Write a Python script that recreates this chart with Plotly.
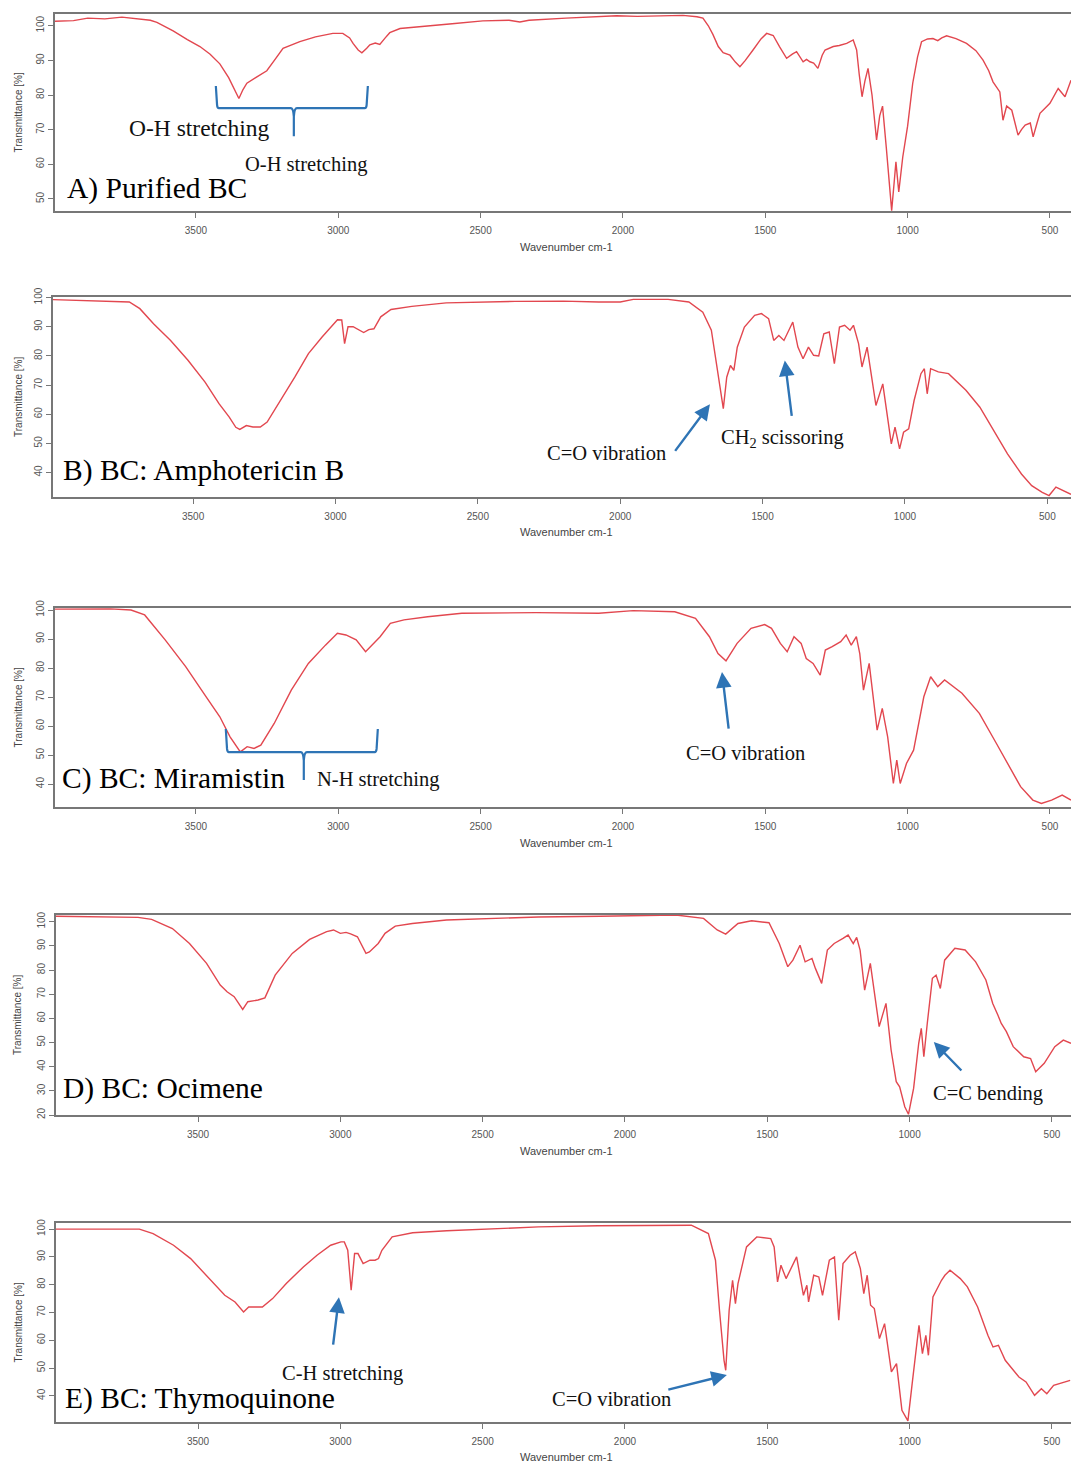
import plotly.graph_objects as go

W, H = 1071, 1463

# ---------------- data (wavenumber cm-1, transmittance %) ----------------
wn_A = [3995, 3930, 3880, 3820, 3760, 3700, 3660, 3637, 3580, 3530, 3486, 3450, 3416, 3385, 3360, 3349, 3335, 3321,
        3290, 3251, 3220, 3194, 3135, 3080, 3019, 2984, 2960, 2948, 2930, 2917, 2900, 2889, 2870, 2854, 2835, 2819,
        2783, 2725, 2600, 2492, 2400, 2362, 2330, 2200, 2100, 2022, 1950, 1850, 1789, 1740, 1719, 1700, 1684, 1665,
        1648, 1624, 1605, 1589, 1570, 1543, 1515, 1495, 1472, 1450, 1425, 1405, 1390, 1367, 1355, 1343, 1330, 1315,
        1300, 1290, 1261, 1240, 1214, 1191, 1179, 1170, 1160, 1150, 1139, 1125, 1109, 1098, 1088, 1075, 1062, 1056,
        1048, 1041, 1031, 1017, 1000, 982, 965, 951, 930, 911, 894, 880, 863, 830, 793, 760, 735, 715, 700, 676, 665,
        652, 634, 612, 600, 587, 569, 559, 545, 535, 500, 471, 447, 426]
T_A = [101.3, 101.5, 102.2, 102.0, 102.5, 102.0, 101.6, 101.0, 98.5, 96.0, 94.0, 91.8, 89.0, 85.0, 81.0, 79.0, 81.5,
       83.4, 85.0, 87.0, 90.5, 93.5, 95.4, 96.8, 97.8, 97.8, 96.5, 94.9, 93.0, 92.2, 93.5, 94.5, 95.0, 94.6, 96.5, 98.0,
       99.2, 99.7, 100.6, 101.4, 101.6, 101.1, 101.6, 102.2, 102.5, 102.9, 102.7, 103.0, 103.0, 102.6, 102.2, 100.0,
       97.5, 94.0, 92.2, 91.5, 89.5, 88.2, 90.0, 93.0, 96.2, 97.8, 97.2, 94.0, 90.6, 91.8, 92.5, 89.6, 90.3, 89.6,
       89.2, 87.7, 91.5, 93.0, 94.0, 94.3, 94.9, 95.9, 93.0, 86.0, 79.5, 84.0, 87.7, 80.0, 67.0, 74.0, 76.8, 65.0,
       52.0, 46.6, 54.0, 60.7, 52.0, 62.1, 71.0, 83.4, 91.0, 95.4, 96.2, 96.3, 95.7, 96.5, 97.1, 96.3, 94.9, 92.8,
       90.1, 87.0, 83.8, 80.9, 72.7, 76.8, 75.6, 68.4, 70.0, 71.3, 71.9, 67.9, 72.0, 74.7, 77.6, 81.9, 79.5, 84.3]

wn_B = [3992, 3900, 3800, 3724, 3687, 3639, 3579, 3518, 3458, 3409, 3373, 3350, 3336, 3313, 3290, 3264, 3240, 3192,
        3143, 3095, 3047, 2993, 2978, 2968, 2960, 2956, 2938, 2901, 2883, 2865, 2841, 2805, 2732, 2611, 2369, 2200,
        2075, 2000, 1954, 1832, 1759, 1710, 1680, 1662, 1644, 1638, 1626, 1613, 1601, 1589, 1564, 1528, 1504, 1479,
        1461, 1443, 1425, 1394, 1376, 1358, 1339, 1321, 1303, 1285, 1266, 1248, 1230, 1212, 1193, 1181, 1163, 1151,
        1133, 1102, 1078, 1048, 1035, 1019, 1005, 987, 968, 944, 932, 922, 910, 883, 847, 786, 737, 676, 640, 591,
        555, 518, 494, 470, 439, 417]
T_B = [99.3, 99.0, 98.8, 98.5, 96.2, 91.0, 85.3, 78.5, 71.0, 63.6, 59.0, 55.5, 54.8, 56.1, 55.6, 55.6, 57.3, 64.7,
       72.7, 80.8, 86.5, 92.4, 92.3, 84.2, 88.0, 90.0, 90.0, 88.0, 89.0, 89.3, 93.4, 95.9, 97.0, 98.2, 98.7, 98.8,
       98.5, 98.5, 99.4, 99.4, 98.5, 95.0, 88.8, 77.3, 65.9, 61.9, 72.7, 76.7, 75.0, 83.0, 89.9, 93.9, 94.5, 92.8,
       85.3, 87.0, 85.3, 91.6, 83.0, 79.0, 83.0, 80.2, 80.0, 87.6, 88.2, 77.3, 89.9, 90.5, 88.8, 90.5, 84.2, 76.2,
       83.0, 63.0, 70.4, 49.8, 55.6, 48.1, 53.8, 55.0, 64.7, 73.9, 75.6, 67.0, 75.6, 74.5, 73.9, 68.2, 62.4, 52.1,
       46.4, 39.5, 35.5, 33.2, 32.1, 35.0, 33.5, 32.5]

wn_C = [3995, 3900, 3800, 3728, 3680, 3608, 3536, 3464, 3416, 3380, 3344, 3320, 3296, 3272, 3225, 3165, 3105, 3045,
        3003, 2973, 2937, 2904, 2877, 2853, 2817, 2769, 2686, 2566, 2305, 2085, 1964, 1818, 1745, 1696, 1666, 1638,
        1599, 1550, 1502, 1478, 1447, 1423, 1399, 1374, 1356, 1332, 1307, 1289, 1265, 1235, 1216, 1198, 1180, 1168,
        1155, 1135, 1107, 1089, 1070, 1050, 1038, 1026, 1004, 979, 943, 919, 894, 870, 809, 748, 688, 639, 603, 560,
        530, 494, 457, 426]
T_C = [100.3, 100.3, 100.4, 100.0, 98.3, 89.7, 80.5, 70.1, 63.2, 56.3, 51.1, 52.9, 52.3, 53.4, 60.9, 72.4, 81.6, 87.9,
       92.0, 91.4, 89.7, 85.6, 88.5, 90.8, 95.4, 96.6, 97.7, 98.9, 99.1, 98.9, 99.8, 99.4, 97.1, 90.8, 85.0, 82.5,
       88.5, 93.7, 95.0, 93.7, 88.5, 85.6, 90.8, 88.5, 83.3, 81.6, 77.6, 86.2, 87.4, 89.1, 91.4, 87.9, 90.8, 85.0,
       72.4, 81.6, 58.6, 66.1, 56.3, 40.2, 48.3, 40.2, 47.1, 51.7, 70.1, 77.0, 73.6, 75.9, 71.3, 64.4, 54.0, 45.4,
       39.1, 34.5, 33.3, 34.5, 36.2, 34.5]

wn_D = [3999, 3850, 3711, 3663, 3590, 3530, 3470, 3422, 3398, 3373, 3343, 3325, 3289, 3265, 3229, 3169, 3108, 3048,
        3024, 3000, 2980, 2964, 2940, 2910, 2898, 2867, 2843, 2807, 2747, 2627, 2446, 2304, 2087, 1821, 1724, 1676,
        1646, 1603, 1555, 1494, 1458, 1428, 1410, 1385, 1367, 1343, 1331, 1309, 1289, 1265, 1234, 1216, 1198, 1186,
        1174, 1158, 1138, 1107, 1083, 1065, 1047, 1035, 1017, 1004, 986, 968, 959, 950, 938, 920, 907, 892, 877, 841,
        805, 768, 732, 708, 690, 678, 660, 636, 599, 575, 557, 527, 490, 460, 433]
T_D = [102.3, 102.2, 101.8, 101.0, 97.2, 91.0, 82.8, 73.8, 71.0, 69.0, 63.7, 66.9, 67.6, 68.5, 77.9, 86.9, 92.7, 95.9,
       96.6, 95.2, 95.6, 95.0, 93.8, 86.9, 87.5, 91.0, 95.2, 98.2, 99.3, 100.7, 101.4, 102.0, 102.3, 102.8, 101.4,
       96.6, 94.9, 99.3, 100.4, 99.6, 91.0, 81.4, 84.1, 90.3, 83.4, 84.8, 80.7, 74.5, 88.3, 91.0, 93.1, 94.5, 91.0,
       93.5, 88.3, 71.7, 82.8, 56.6, 66.2, 46.9, 33.8, 31.7, 23.4, 20.3, 31.0, 49.7, 55.9, 44.1, 57.9, 76.6, 77.9,
       72.4, 84.1, 89.0, 88.3, 83.4, 75.9, 66.2, 61.4, 57.9, 54.5, 48.3, 44.1, 43.4, 37.9, 41.4, 48.3, 51.0, 49.7]

wn_E = [3999, 3850, 3706, 3658, 3586, 3526, 3466, 3406, 3370, 3340, 3322, 3274, 3238, 3190, 3130, 3082, 3034, 2998,
        2986, 2974, 2962, 2950, 2938, 2920, 2896, 2878, 2866, 2854, 2818, 2746, 2626, 2304, 2095, 1767, 1707, 1682,
        1668, 1652, 1646, 1634, 1622, 1612, 1603, 1573, 1537, 1488, 1476, 1464, 1452, 1434, 1397, 1373, 1361, 1355,
        1337, 1319, 1306, 1282, 1264, 1249, 1234, 1209, 1191, 1173, 1161, 1149, 1137, 1124, 1106, 1088, 1064, 1046,
        1027, 1006, 991, 967, 955, 943, 934, 918, 888, 876, 858, 822, 797, 761, 725, 707, 688, 664, 616, 591, 561,
        537, 518, 494, 436]
T_E = [100.0, 100.0, 100.0, 98.4, 94.2, 89.4, 82.8, 76.2, 73.8, 70.2, 72.0, 72.0, 75.0, 80.4, 86.4, 90.6, 94.2, 95.4,
       95.4, 92.4, 78.0, 91.2, 91.2, 87.6, 88.8, 88.8, 89.4, 92.4, 97.2, 98.7, 99.4, 100.8, 101.2, 101.4, 98.4, 88.8,
       70.8, 52.8, 49.2, 70.8, 81.6, 73.2, 80.4, 93.6, 97.2, 96.6, 93.6, 81.0, 87.0, 82.2, 90.0, 76.2, 79.8, 73.8,
       83.4, 82.8, 76.2, 88.8, 90.0, 67.2, 87.6, 90.6, 91.8, 85.8, 76.8, 83.4, 72.6, 71.4, 60.6, 66.0, 48.6, 51.6,
       34.8, 31.0, 44.4, 65.4, 55.2, 61.8, 54.6, 75.6, 81.6, 83.4, 85.2, 82.2, 79.2, 72.0, 61.8, 57.6, 58.2, 52.8,
       46.8, 45.0, 40.2, 42.6, 40.8, 43.8, 45.6]

x_ticks = [3500, 3000, 2500, 2000, 1500, 1000, 500]
y_ticks_A = [50, 60, 70, 80, 90, 100]
y_ticks_B = [40, 50, 60, 70, 80, 90, 100]
y_ticks_C = [40, 50, 60, 70, 80, 90, 100]
y_ticks_D = [20, 30, 40, 50, 60, 70, 80, 90, 100]
y_ticks_E = [40, 50, 60, 70, 80, 90, 100]

titles = ["A) Purified BC", "B) BC: Amphotericin B", "C) BC: Miramistin", "D) BC: Ocimene", "E) BC: Thymoquinone"]

# ---------------- layout geometry (pixels) ----------------
panels = [
    dict(wn=wn_A, T=T_A, yt=y_ticks_A, left=55, top=14, bottom=211, xr=[3995, 426], yr=[46.5, 103.4], xt_y=247),
    dict(wn=wn_B, T=T_B, yt=y_ticks_B, left=53, top=297, bottom=497, xr=[3992, 417], yr=[31.6, 100.2], xt_y=532),
    dict(wn=wn_C, T=T_C, yt=y_ticks_C, left=55, top=608, bottom=807, xr=[3995, 426], yr=[32.1, 100.7], xt_y=843),
    dict(wn=wn_D, T=T_D, yt=y_ticks_D, left=56, top=915, bottom=1115, xr=[3999, 433], yr=[20.0, 102.8], xt_y=1151),
    dict(wn=wn_E, T=T_E, yt=y_ticks_E, left=56, top=1223, bottom=1422, xr=[3999, 433], yr=[30.6, 102.2], xt_y=1457),
]

LINE = "#e2474f"
BLUE = "#2e74b5"
AXC = "#777777"
TICKFONT = dict(family="Liberation Sans, Arial", size=10, color="#555555")
SERIF = "Liberation Serif, Times New Roman, serif"

fig = go.Figure()
layout = dict(width=W, height=H, margin=dict(l=0, r=0, t=0, b=0, pad=0, autoexpand=False),
              paper_bgcolor="white", plot_bgcolor="white", showlegend=False)
annotations = []
shapes = []

for i, p in enumerate(panels):
    n = "" if i == 0 else str(i + 1)
    fig.add_trace(go.Scatter(x=p["wn"], y=p["T"], mode="lines", line=dict(color=LINE, width=1.4),
                             xaxis="x" + n, yaxis="y" + n, hoverinfo="skip"))
    layout["xaxis" + n] = dict(domain=[p["left"] / W, 1], range=p["xr"], anchor="y" + n, automargin=False,
                               tickvals=x_ticks, ticks="outside", ticklen=5, tickcolor=AXC,
                               ticklabelstandoff=4,
                               showline=True, linecolor=AXC, linewidth=1.5, mirror=True,
                               showgrid=False, zeroline=False, tickfont=TICKFONT)
    layout["yaxis" + n] = dict(domain=[1 - p["bottom"] / H, 1 - p["top"] / H], range=p["yr"], anchor="x" + n,
                               automargin=False, tickvals=p["yt"], ticks="outside", ticklen=5, tickcolor=AXC,
                               tickangle=-90, showline=True, linecolor=AXC, linewidth=1.5, showgrid=False,
                               zeroline=False, tickfont=TICKFONT)
    # axis titles
    annotations.append(dict(text="Wavenumber cm-1", x=566 / W, y=1 - p["xt_y"] / H, xref="paper", yref="paper",
                            showarrow=False, font=dict(family="Liberation Sans, Arial", size=11, color="#444"),
                            xanchor="center", yanchor="middle"))
    annotations.append(dict(text="Transmittance [%]", x=18 / W, y=1 - (p["top"] + p["bottom"]) / 2 / H,
                            xref="paper", yref="paper", showarrow=False, textangle=-90,
                            font=dict(family="Liberation Sans, Arial", size=10, color="#444"),
                            xanchor="center", yanchor="middle"))

# panel titles (data coordinates)
title_pos = [(3960, 53.0), (3965, 40.8), (3979, 42.0), (3982, 31.1), (3974, 39.2)]
for i, (tx, ty) in enumerate(title_pos):
    n = "" if i == 0 else str(i + 1)
    annotations.append(dict(text=titles[i], x=tx, y=ty, xref="x" + n, yref="y" + n, showarrow=False,
                            xanchor="left", yanchor="middle", font=dict(family=SERIF, size=29.5, color="black")))

# label texts
labels = [
    ("O-H stretching", 3486, 70.4, "", 23.5),
    ("O-H stretching", 3114, 60.0, "", 20.5),
    ("C=O vibration", 2047, 46.6, "2", 20.5),
    ("CH<sub>2</sub> scissoring", 1429, 51.7, "2", 20.5),
    ("C=O vibration", 1568, 50.7, "3", 20.5),
    ("N-H stretching", 2861, 41.7, "3", 20.5),
    ("C=C bending", 725, 29.1, "4", 20.5),
    ("C-H stretching", 2994, 48.2, "5", 20.5),
    ("C=O vibration", 2049, 38.8, "5", 20.5),
]
for txt, lx, ly, n, fs in labels:
    annotations.append(dict(text=txt, x=lx, y=ly, xref="x" + n, yref="y" + n, showarrow=False,
                            xanchor="center", yanchor="middle", font=dict(family=SERIF, size=fs, color="#111")))

# arrows: (head wn, head T, tail wn, tail T, axis suffix)
arrows = [
    (1685, 63.4, 1811, 46.9, "2"),
    (1422, 78.4, 1397, 58.9, "2"),
    (1652, 78.6, 1628, 58.6, "3"),
    (915, 50.2, 813, 37.8, "4"),
    (3005, 75.5, 3026, 57.9, "5"),
    (1642, 47.5, 1853, 42.1, "5"),
]
for hx, hy, tx, ty, n in arrows:
    annotations.append(dict(text="", x=hx, y=hy, ax=tx, ay=ty, xref="x" + n, yref="y" + n,
                            axref="x" + n, ayref="y" + n, showarrow=True, arrowhead=2, arrowsize=1.3,
                            arrowwidth=2.4, arrowcolor=BLUE))

# curly braces
def brace(x0, x1, xm, ytop, yh, ybot, n):
    dx = (x0 - x1) * 0.02
    path = (f"M {x0},{ytop} L {x0 - dx * 0.4},{yh + (ytop - yh) * 0.15} Q {x0 - dx * 0.5},{yh} {x0 - dx},{yh} "
            f"L {xm + dx},{yh} Q {xm + dx * 0.2},{yh} {xm},{yh - (yh - ybot) * 0.3} L {xm},{ybot} "
            f"M {xm},{yh - (yh - ybot) * 0.3} Q {xm - dx * 0.2},{yh} {xm - dx},{yh} "
            f"L {x1 + dx},{yh} Q {x1 + dx * 0.5},{yh} {x1 + dx * 0.4},{yh + (ytop - yh) * 0.15} L {x1},{ytop}")
    return dict(type="path", path=path, xref="x" + n, yref="y" + n,
                line=dict(color=BLUE, width=2.2))

shapes.append(brace(3430, 2896, 3156, 82.6, 76.2, 68.1, ""))
shapes.append(brace(3395, 2861, 3121, 59.0, 51.0, 41.4, "3"))

layout["annotations"] = annotations
layout["shapes"] = shapes
fig.update_layout(**layout)
fig.write_html("out.html")
